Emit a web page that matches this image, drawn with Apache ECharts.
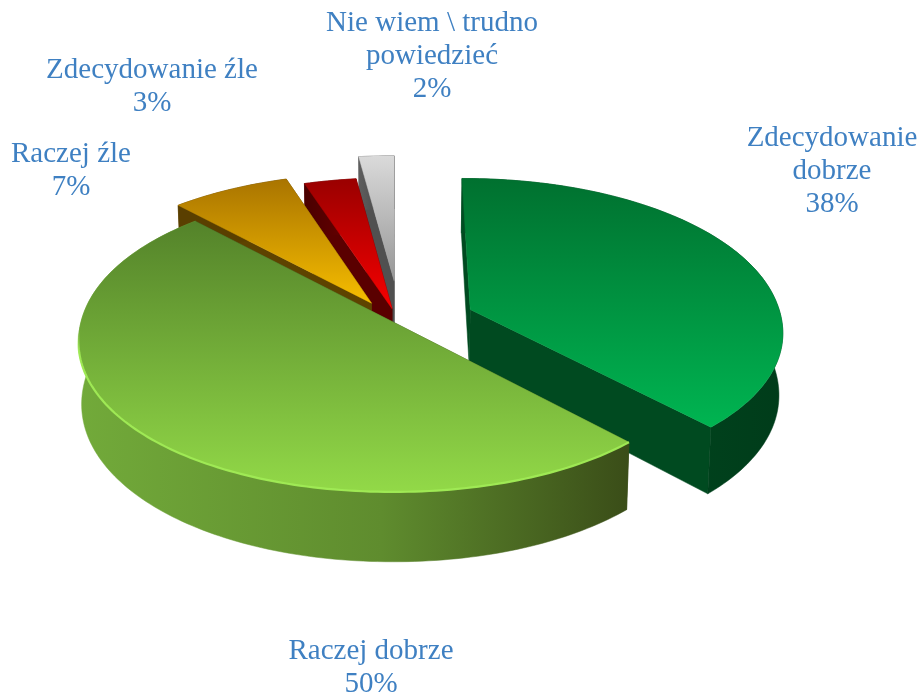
<!DOCTYPE html>
<html>
<head>
<meta charset="utf-8">
<style>html,body{margin:0;padding:0;background:#fff}#c{width:922px;height:696px}</style>
<script src="https://cdn.jsdelivr.net/npm/echarts@6/dist/echarts.min.js"></script>
</head>
<body>
<div id="c"></div>
<script>
// ---- data ----
var categories = ['Zdecydowanie\ndobrze', 'Raczej dobrze', 'Raczej źle', 'Zdecydowanie źle', 'Nie wiem \\ trudno\npowiedzieć'];
var values = [38, 50, 7, 3, 2];

// ---- styling (one entry per category) ----
var explode = [[0.25, 0.085], [0, 0], [-0.07, 0.128], [-0.003, 0.09], [0.004, 0.283]];
var drawRank = [3, 4, 2, 1, 0];
var topStops = [
  [176, 425, '#00702f', '#00b451'],
  [222, 495, '#54832a', '#93da48'],
  [177, 305, '#a87300', '#f7be00'],
  [182, 320, '#9c0000', '#ff0000'],
  [156, 300, '#dadada', '#8c8c8c']
];
var wallStops = [
  ['#004d22', '#00451e', '#003c1a'],
  ['#72aa3a', '#5f8c2e', '#3a4d18'],
  ['#5a3f00', '#5a3f00', '#5a3f00'],
  ['#4a0000', '#5c0000', '#700000'],
  ['#5e5e5e', '#4c4c4c', '#3c3c3c']
];
var edgeColor = ['#004a20', '#3a4d18', '#5e4300', '#5a0000', '#505050'];
var labelPos = [[832, 171], [371, 668], [71, 171], [152, 87], [432, 56]];

var CX = 393, CY = 322, A = 312, B = 149.5, K = 0.12, DEPTH = 61.5, XSHRINK = 0.99, ROUND = 0.98;
var FONT = 'Liberation Serif';

function project(u, v, low) {
  var s = 1 / (1 + K * v);
  var x = u * A * s, y = -v * B * s;
  if (low) { x *= XSHRINK; y += DEPTH * s; }
  return [CX + x, CY + y];
}
function fuller(c) { // slightly squarer rim, as in the source's perspective
  return (c < 0 ? -1 : 1) * Math.pow(Math.abs(c), ROUND);
}
function vGrad(y0, y1, c0, c1) {
  return new echarts.graphic.LinearGradient(0, y0, 0, y1, [{offset: 0, color: c0}, {offset: 1, color: c1}], true);
}
var total = values.reduce(function (a, b) { return a + b; }, 0);

function renderSlice(params) {
  var i = params.dataIndex, before = 0;
  for (var j = 0; j < i; j++) before += values[j];
  var a0 = before / total * 2 * Math.PI, a1 = (before + values[i]) / total * 2 * Math.PI;
  var ou = explode[i][0], ov = explode[i][1], rank = drawRank[i] * 10;
  var steps = Math.max(6, Math.ceil((a1 - a0) / 0.02));
  var hi = [], lo = [], th, t;
  for (t = 0; t <= steps; t++) {
    th = a0 + (a1 - a0) * t / steps;
    hi.push(project(ou + fuller(Math.sin(th)), ov + fuller(Math.cos(th)), false));
    lo.push(project(ou + fuller(Math.sin(th)), ov + fuller(Math.cos(th)), true));
  }
  var apexHi = project(ou, ov, false), apexLo = project(ou, ov, true);
  var ws = wallStops[i];
  var xs = hi.map(function (p) { return p[0]; });
  var x0 = Math.min.apply(null, xs), x1 = Math.max.apply(null, xs);
  var wallFill = new echarts.graphic.LinearGradient(x0, 0, x1, 0, [
    {offset: 0, color: ws[0]}, {offset: 0.55, color: ws[1]}, {offset: 1, color: ws[2]}], true);

  var children = [];
  function poly(pts, fill, z) {
    children.push({type: 'polygon', z2: rank + z, shape: {points: pts}, style: {fill: fill, stroke: fill, lineWidth: 0.5}});
  }
  poly([apexHi, hi[0], lo[0], apexLo], edgeColor[i], 0);
  poly([apexHi, hi[steps], lo[steps], apexLo], edgeColor[i], 0);
  poly(hi.concat(lo.slice().reverse()), wallFill, 1);
  var ts = topStops[i];
  poly([apexHi].concat(hi), vGrad(ts[0], ts[1], ts[2], ts[3]), 2);

  if (i === 1) { // soft bevel along the front rim
    children.push({
      type: 'polyline', z2: rank + 3, shape: {points: hi},
      style: {fill: null, lineWidth: 2.2,
        stroke: new echarts.graphic.LinearGradient(0, 330, 0, 420, [
          {offset: 0, color: 'rgba(160,235,85,0)'},
          {offset: 0.25, color: 'rgba(160,235,85,0.95)'},
          {offset: 1, color: 'rgba(160,235,85,0.95)'}], true)}
    });
  }
  children.push({
    type: 'text', z2: 100,
    style: {
      x: labelPos[i][0], y: labelPos[i][1],
      text: categories[i] + '\n' + values[i] + '%',
      fill: '#3f80c2', font: '29px "' + FONT + '"', lineHeight: 33,
      align: 'center', verticalAlign: 'middle'
    }
  });
  return {type: 'group', children: children};
}

var chart = echarts.init(document.getElementById('c'), null, {renderer: 'canvas'});
chart.setOption({
  animation: false,
  backgroundColor: '#ffffff',
  series: [{
    type: 'custom',
    coordinateSystem: 'none',
    renderItem: renderSlice,
    data: values
  }]
});
</script>
</body>
</html>
